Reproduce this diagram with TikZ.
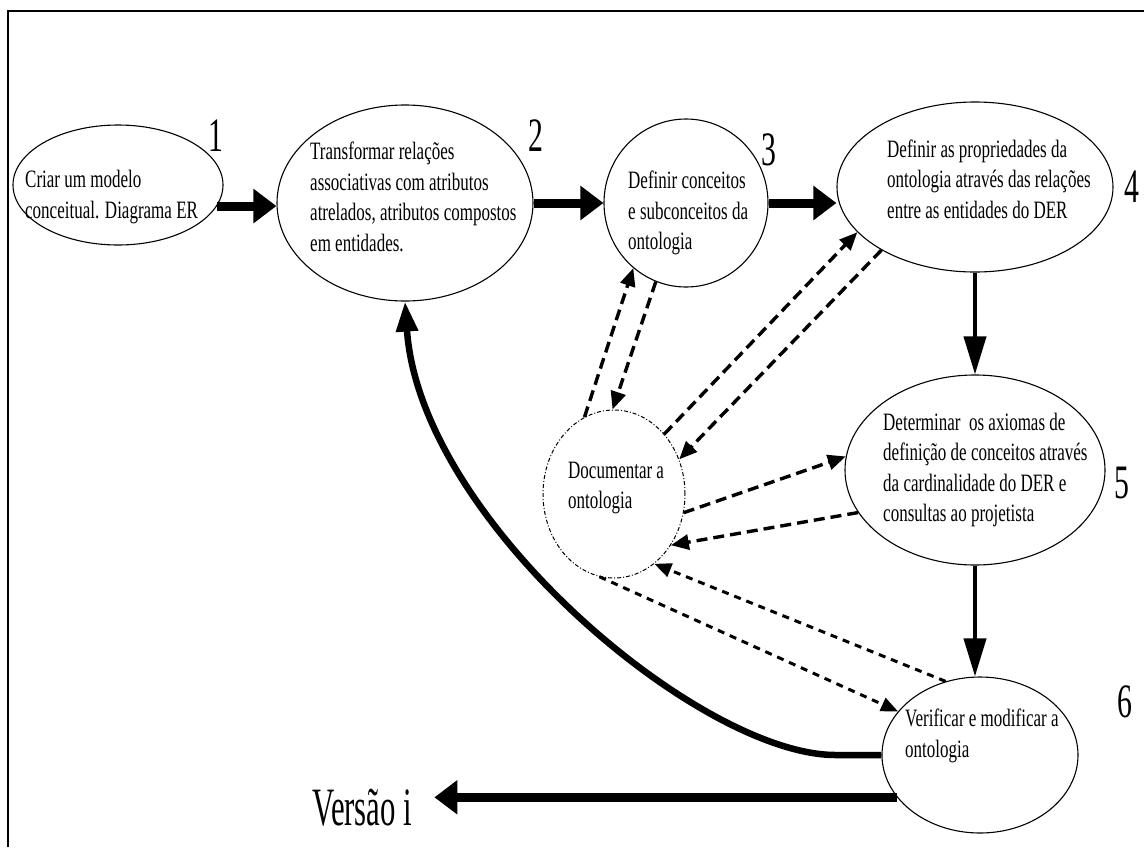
\documentclass[tikz,border=0pt]{standalone}
\usepackage{fontspec}
\setmainfont{Liberation Serif}[FakeStretch=0.68]
\newfontfamily\numfont{Liberation Serif}[FakeStretch=0.62]
\newfontfamily\verfont{Liberation Serif}[FakeStretch=0.57]
\usetikzlibrary{arrows.meta,shapes.geometric,calc}

\begin{document}
\begin{tikzpicture}[x=1pt,y=-1pt,
  stage/.style={draw,ellipse,line width=1.1pt,inner sep=0pt},
  docstage/.style={draw,ellipse,line width=1pt,inner sep=0pt,
    dash pattern=on 4pt off 2pt on 1pt off 2pt},
  txt/.style={align=left,anchor=west,inner sep=0pt,
    font=\fontsize{25}{30.5}\selectfont},
  num/.style={inner sep=0pt,font=\numfont\fontsize{48}{48}\selectfont},
  flow/.style={line width=9pt,-{Triangle[length=23pt,width=33pt]}},
  vflow/.style={line width=4pt,-{Triangle[length=38pt,width=22pt]}},
  backflow/.style={line width=6.5pt,-{Triangle[length=30pt,width=21pt]}},
  link/.style={line width=3.4pt,dash pattern=on 11pt off 6pt,
    -{Triangle[length=18pt,width=15pt]}},
  thinlink/.style={line width=3pt,dash pattern=on 7pt off 6pt,
    -{Triangle[length=17pt,width=14pt]}},
]
\useasboundingbox (0,0) rectangle (1144,847);

% page frame (left and top rules)
\draw[line width=2.5pt] (8,847) -- (8,11) -- (1144,11);

% process stages
\node[stage,minimum width=210pt,minimum height=120pt] (e1) at (118,185) {};
\node[stage,minimum width=256pt,minimum height=196pt] (e2) at (405,203) {};
\node[stage,minimum width=164pt,minimum height=168pt] (e3) at (686,203) {};
\node[stage,minimum width=276pt,minimum height=170pt] (e4) at (975,187) {};
\node[stage,minimum width=260pt,minimum height=190pt] (e5) at (975,470) {};
\node[stage,minimum width=196pt,minimum height=156pt] (e6) at (980,755) {};
\node[docstage,minimum width=142pt,minimum height=168pt] (doc) at (614,494) {};

% stage texts
\node[txt] (t1) at (25,197) {Criar um modelo\\conceitual. Diagrama ER};
\node[txt] (t2) at (310,197) {Transformar relações\\associativas com atributos\\atrelados, atributos compostos\\em entidades.};
\node[txt] (t3) at (628,213) {Definir conceitos\\e subconceitos da\\ontologia};
\node[txt] (t4) at (887,179) {Definir as propriedades da\\ontologia através das relações\\entre as entidades do DER};
\node[txt] (t5) at (883,470) {Determinar\ \ os axiomas de\\definição de conceitos através\\da cardinalidade do DER e\\consultas ao projetista};
\node[txt] (t6) at (905,736) {Verificar e modificar a\\ontologia};
\node[txt] (td) at (568,488) {Documentar a\\ontologia};

% step numbers
\node[num] (n1) at (216,136) {1};
\node[num] (n2) at (536,136) {2};
\node[num] (n3) at (769,150) {3};
\node[num] (n4) at (1132,187) {4};
\node[num] (n5) at (1122,483) {5};
\node[num] (n6) at (1125,702) {6};
\node[inner sep=0pt,anchor=west,font=\verfont\fontsize{54}{54}\selectfont] (ver) at (312,808) {Versão i};

% main sequence
\coordinate (row) at (0,203);
\draw[flow] (e1.-12) -- (e2.west |- e1.-12);
\draw[flow] (e2.east |- row) -- (e3.west |- row);
\draw[flow] (e3.east |- row) -- (e4.west |- row);
\draw[vflow] (e4.south) -- (e4.south |- e5.north);
\draw[vflow] (e5.south) -- (e5.south |- e6.north);

% loop back to step 2 and release of the version
\draw[backflow] (e6.west) -- ++(-46,0) .. controls (700,755) and (420,520) .. (e2.south);
\draw[flow] (e6.207) -- ($(ver.east |- e6.207)+(22,0)$);

% documentation links
\draw[link] (doc.111) -- (e3.231);
\draw[link] (e3.249) -- (doc.91);
\draw[link] (doc.50) -- (e4.201);
\draw[link] (e4.214) -- (doc.28);
\draw[link] (doc.-15) -- (e5.174);
\draw[link] (e5.200) -- (doc.-42);
\draw[thinlink] (doc.-100) -- (e6.152);
\draw[thinlink] (e6.115) -- (doc.-60);
\end{tikzpicture}
\end{document}
